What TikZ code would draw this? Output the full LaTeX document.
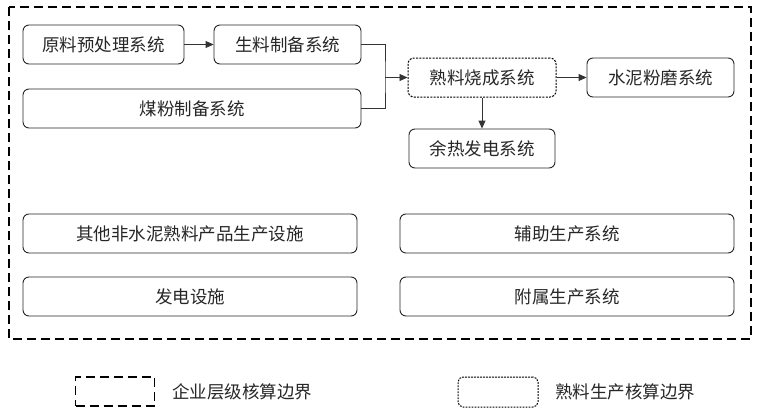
\documentclass[tikz,border=0pt]{standalone}
\usepackage{fontspec}
\newfontfamily\cjk{Noto Sans CJK SC}
\usetikzlibrary{arrows.meta}
\begin{document}
\begin{tikzpicture}[x=1pt,y=-1pt,
  sysbox/.style={draw=black!85, line width=0.9pt, rounded corners=6pt, font=\cjk\fontsize{17.5}{19}\selectfont, text=black!85, inner sep=0pt},
  klnbox/.style={sysbox, draw=black, line width=1pt, dash pattern=on 2pt off 1.3pt},
  entbox/.style={draw=black, line width=1.3pt, dash pattern=on 9pt off 5pt},
  conn/.style={draw=black!80, line width=0.9pt},
  arr/.style={conn, -{Triangle[length=8pt,width=7pt]}},
  lbl/.style={font=\cjk\fontsize{17.5}{19}\selectfont, text=black!85, anchor=west, inner sep=0pt}]
\useasboundingbox (0,0) rectangle (761,413);
\draw[entbox] (9,7) rectangle (751,339);
\node[sysbox, minimum width=161pt, minimum height=39pt] (raw) at (103.5,44.5) {原料预处理系统};
\node[sysbox, minimum width=147pt, minimum height=39pt] (meal) at (287.5,44.5) {生料制备系统};
\node[sysbox, minimum width=338pt, minimum height=39pt] (coal) at (192,108.5) {煤粉制备系统};
\node[klnbox, minimum width=148pt, minimum height=39pt] (kiln) at (482,77.5) {熟料烧成系统};
\node[sysbox, minimum width=147pt, minimum height=39pt] (mill) at (660.5,77.5) {水泥粉磨系统};
\node[sysbox, minimum width=146pt, minimum height=39pt] (whr) at (482,148.5) {余热发电系统};
\node[sysbox, minimum width=334pt, minimum height=39pt] (other) at (190,233.5) {其他非水泥熟料产品生产设施};
\node[sysbox, minimum width=334pt, minimum height=39pt] (aux) at (567,233.5) {辅助生产系统};
\node[sysbox, minimum width=334pt, minimum height=39pt] (pwr) at (190,296.5) {发电设施};
\node[sysbox, minimum width=334pt, minimum height=39pt] (att) at (567,296.5) {附属生产系统};
\coordinate (jn) at (385,77.5);
\draw[arr] (raw.east) -- (meal.west);
\draw[conn] (meal.east) -| (jn) |- (coal.east);
\draw[arr] (jn) -- (kiln.west);
\draw[arr] (kiln.east) -- (mill.west);
\draw[arr] (kiln.south) -- (whr.north);
\node[entbox, minimum width=79pt, minimum height=29pt, inner sep=0pt] (lg1) at (115,391.5) {};
\node[lbl] (lt1) at (172,391.5) {企业层级核算边界};
\node[draw=black, line width=1pt, rounded corners=5pt, dash pattern=on 1.8pt off 1.2pt, minimum width=80pt, minimum height=30pt, inner sep=0pt] (lg2) at (498,392) {};
\node[lbl] (lt2) at (555,392) {熟料生产核算边界};
\end{tikzpicture}
\end{document}
